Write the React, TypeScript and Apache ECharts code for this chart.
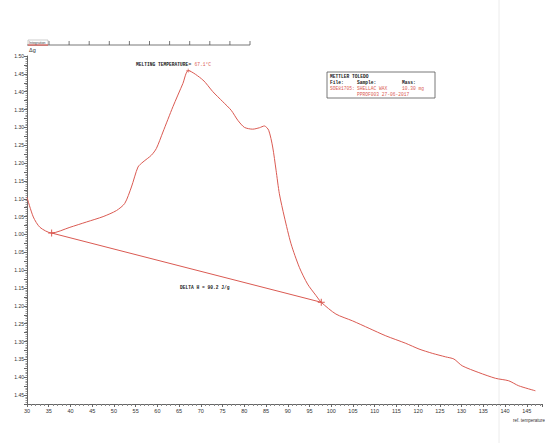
import React, { useEffect, useRef } from "react";
import * as echarts from "echarts";

// DSC curve (temperature °C, heat flow)
const temps = [
  30.0, 31.45, 32.98, 35.67, 39.87, 43.7, 47.51, 50.59, 52.49, 54.03, 55.54, 56.69, 58.62, 59.77,
  61.28, 63.58, 65.87, 67.1, 70.46, 72.76, 75.05, 76.98, 78.5, 80.03, 81.94, 83.48, 84.62, 85.61,
  86.53, 87.31, 88.07, 89.22, 90.75, 92.66, 94.56, 96.49, 97.71, 101.08, 104.89, 108.72, 112.56,
  117.15, 120.2, 123.25, 126.33, 128.23, 130.14, 133.97, 137.8, 140.85, 143.15, 146.98,
];
const heatFlow = [
  0.104, 0.049, 0.02, 0.004, 0.02, 0.035, 0.05, 0.067, 0.087, 0.133, 0.189, 0.203, 0.222, 0.241,
  0.287, 0.358, 0.423, 0.459, 0.433, 0.4, 0.372, 0.348, 0.32, 0.3, 0.295, 0.299, 0.304, 0.292,
  0.245, 0.18, 0.114, 0.049, -0.026, -0.092, -0.139, -0.171, -0.19, -0.223, -0.242, -0.263, -0.284,
  -0.305, -0.321, -0.333, -0.343, -0.349, -0.368, -0.387, -0.403, -0.41, -0.424, -0.438,
];
const baselineT = [35.67, 97.71];
const baselineV = [0.004, -0.19];
const peakT = [67.1];
const peakV = [0.459];

const xTickLabels = [
  "30", "35", "40", "45", "50", "55", "60", "65", "70", "75", "80", "85", "90", "95", "100", "105",
  "110", "115", "120", "125", "130", "135", "140", "145",
];
const yTickLabels = [
  "1.50", "1.45", "1.40", "1.35", "1.30", "1.25", "1.20", "1.15", "1.10", "1.05", "1.00",
  "1.05", "1.10", "1.15", "1.20", "1.25", "1.30", "1.35", "1.40", "1.45",
];

const RED = "#da5a52";
const MONO = "'Liberation Mono', 'DejaVu Sans Mono', monospace";
const SANS = "'Liberation Sans', Arial, sans-serif";

export default function App() {
  const ref = useRef<HTMLDivElement>(null);
  useEffect(() => {
    if (!ref.current) return;
    const chart = echarts.init(ref.current, null, { renderer: "svg" });
    const plus = "path://M0,5L10,5M5,0L5,10";
    const rulerTicks: any[] = [];
    for (let i = 0; i < 11; i++) {
      const x = 49 + i * 20.1;
      rulerTicks.push({ type: "line", shape: { x1: x, y1: 41, x2: x, y2: 45 }, style: { stroke: "#555", lineWidth: 0.8 } });
    }
    chart.setOption({
      animation: false,
      backgroundColor: "#ffffff",
      grid: { left: 27, right: 2, top: 56, bottom: 39, containLabel: false },
      xAxis: {
        type: "value",
        min: 30,
        max: 148.5,
        interval: 5,
        axisLine: { onZero: false, lineStyle: { color: "#666", width: 1 } },
        axisTick: { length: 3, lineStyle: { color: "#666" } },
        minorTick: { show: true, splitNumber: 5, length: 2, lineStyle: { color: "#888" } },
        splitLine: { show: false },
        axisLabel: {
          fontSize: 5.5,
          fontFamily: SANS,
          color: "#333",
          margin: 4,
          formatter: (v: number) => {
            const idx = Math.round((v - 30) / 5);
            return Math.abs(30 + idx * 5 - v) < 1e-6 && xTickLabels[idx] ? xTickLabels[idx] : "";
          },
        },
      },
      yAxis: {
        type: "value",
        min: -0.475,
        max: 0.5,
        interval: 0.025,
        axisLine: { show: true, onZero: false, lineStyle: { color: "#666", width: 1 } },
        axisTick: { show: true, length: 3, lineStyle: { color: "#666" } },
        minorTick: { show: true, splitNumber: 5, length: 1.5, lineStyle: { color: "#999" } },
        splitLine: { show: false },
        axisLabel: {
          fontSize: 5,
          fontFamily: SANS,
          color: "#333",
          margin: 3,
          formatter: (v: number) => {
            const r = (0.5 - v) / 0.05;
            const idx = Math.round(r);
            return Math.abs(r - idx) < 1e-4 && yTickLabels[idx] ? yTickLabels[idx] : "";
          },
        },
      },
      series: [
        {
          type: "line",
          data: temps.map((t, i) => [t, heatFlow[i]]),
          smooth: 0.25,
          showSymbol: false,
          lineStyle: { color: RED, width: 1 },
          z: 3,
        },
        {
          type: "line",
          data: baselineT.map((t, i) => [t, baselineV[i]]),
          showSymbol: true,
          symbol: plus,
          symbolSize: 7,
          itemStyle: { color: "none", borderColor: RED, borderWidth: 1 },
          lineStyle: { color: RED, width: 1 },
          z: 3,
        },
        {
          type: "scatter",
          data: peakT.map((t, i) => [t, peakV[i]]),
          symbol: plus,
          symbolSize: 4,
          itemStyle: { color: "none", borderColor: RED, borderWidth: 0.8 },
          z: 4,
        },
      ],
      graphic: [
        // faint scan line
        { type: "line", shape: { x1: 499, y1: 0, x2: 499, y2: 443 }, style: { stroke: "#ececec", lineWidth: 1 }, z: 0 },
        // top ruler
        { type: "line", shape: { x1: 27, y1: 45, x2: 250, y2: 45 }, style: { stroke: "#555", lineWidth: 0.8 } },
        ...rulerTicks,
        { type: "rect", shape: { x: 28, y: 40, width: 20, height: 5 }, style: { fill: "#fff", stroke: "#999", lineWidth: 0.5 } },
        { type: "line", shape: { x1: 28, y1: 45, x2: 48, y2: 45 }, style: { stroke: RED, lineWidth: 1.2 } },
        { type: "text", left: 29, top: 40.5, style: { text: "Integration", font: `3.5px ${SANS}`, fill: "#444" } },
        // Δg label
        { type: "text", left: 29, top: 47, style: { text: "Δg", font: `5.5px ${SANS}`, fill: "#333" } },
        // ref temperature
        { type: "text", left: 513, top: 418, style: { text: "ref. temperature", font: `4.5px ${SANS}`, fill: "#333" } },
        // melting temperature
        {
          type: "text",
          left: 136,
          top: 58,
          style: {
            text: "{b|MELTING TEMPERATURE=} {r|67.1°C}",
            rich: {
              b: { font: `bold 4.6px ${MONO}`, fill: "#222" },
              r: { font: `4.6px ${MONO}`, fill: RED },
            },
          },
        },
        // delta H
        { type: "text", left: 180, top: 285, style: { text: "DELTA H = 90.2 J/g", font: `bold 4.6px ${MONO}`, fill: "#222" } },
        // Mettler box
        { type: "rect", shape: { x: 327, y: 72, width: 108, height: 26 }, style: { fill: "#fff", stroke: "#555", lineWidth: 0.8 } },
        { type: "text", left: 330, top: 74, style: { text: "METTLER TOLEDO", font: `bold 4.6px ${MONO}`, fill: "#222" } },
        { type: "text", left: 330, top: 80, style: { text: "File:", font: `bold 4.6px ${MONO}`, fill: "#222" } },
        { type: "text", left: 357, top: 80, style: { text: "Sample:", font: `bold 4.6px ${MONO}`, fill: "#222" } },
        { type: "text", left: 402, top: 80, style: { text: "Mass:", font: `bold 4.6px ${MONO}`, fill: "#222" } },
        { type: "text", left: 330, top: 86, style: { text: "SOE81705:", font: `4.6px ${MONO}`, fill: RED } },
        { type: "text", left: 357, top: 86, style: { text: "SHELLAC WAX", font: `4.6px ${MONO}`, fill: RED } },
        { type: "text", left: 402, top: 86, style: { text: "10.30 mg", font: `4.6px ${MONO}`, fill: RED } },
        { type: "text", left: 357, top: 91.5, style: { text: "PPROF003 27-06-2017", font: `4.6px ${MONO}`, fill: RED } },
      ],
    });
    return () => chart.dispose();
  }, []);
  return (
    <div
      ref={ref}
      style={{ position: "fixed", left: 0, top: 0, width: 545, height: 443, background: "#fff" }}
    />
  );
}
